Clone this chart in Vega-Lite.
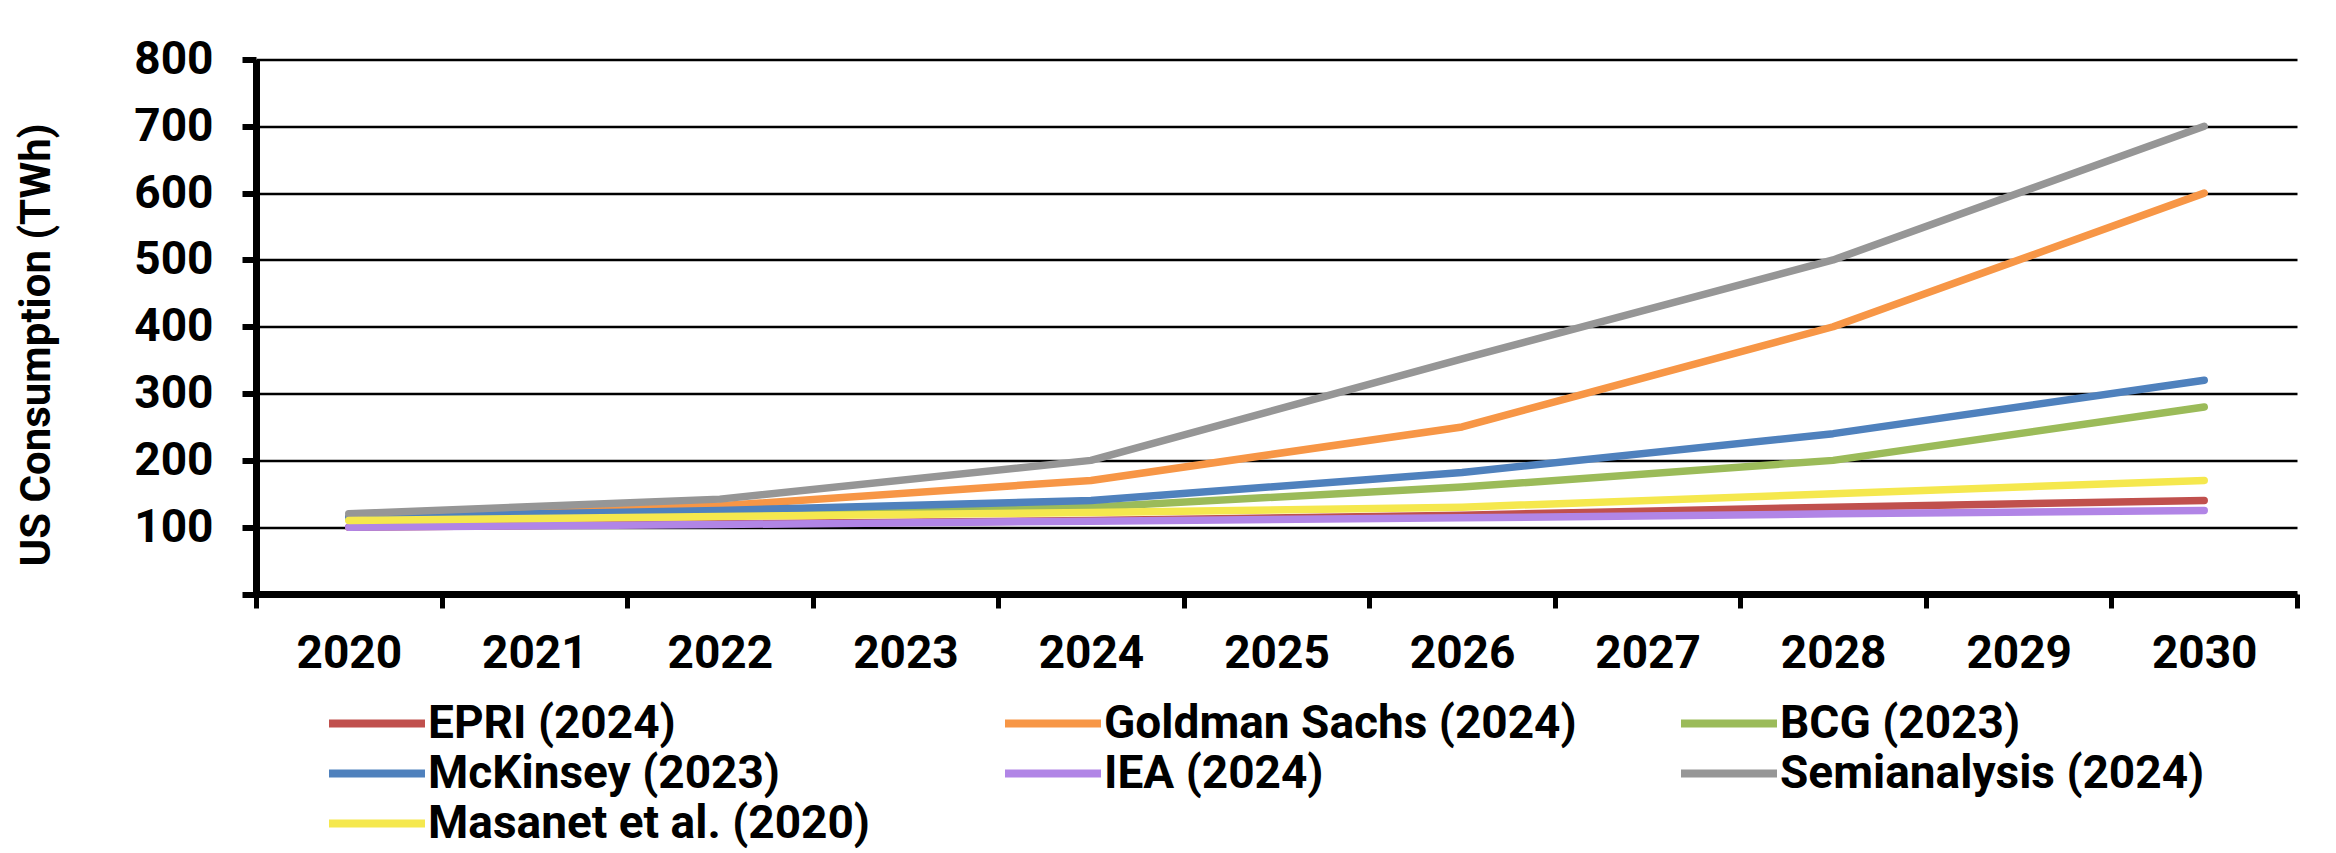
{
  "$schema": "https://vega.github.io/schema/vega-lite/v6.json",
  "width": 2041,
  "height": 534.5,
  "autosize": {"type": "none"},
  "padding": {"left": 256, "top": 59.5, "right": 39, "bottom": 259},
  "background": "white",
  "config": {
    "view": {"stroke": null},
    "font": "Roboto"
  },
  "data": {
    "values": [
      {"source": "EPRI (2024)", "year": "2020", "twh": 100},
      {"source": "EPRI (2024)", "year": "2022", "twh": 105},
      {"source": "EPRI (2024)", "year": "2024", "twh": 110},
      {"source": "EPRI (2024)", "year": "2026", "twh": 118},
      {"source": "EPRI (2024)", "year": "2028", "twh": 130},
      {"source": "EPRI (2024)", "year": "2030", "twh": 140},
      {"source": "Goldman Sachs (2024)", "year": "2020", "twh": 115},
      {"source": "Goldman Sachs (2024)", "year": "2022", "twh": 132},
      {"source": "Goldman Sachs (2024)", "year": "2024", "twh": 170},
      {"source": "Goldman Sachs (2024)", "year": "2026", "twh": 250},
      {"source": "Goldman Sachs (2024)", "year": "2028", "twh": 400},
      {"source": "Goldman Sachs (2024)", "year": "2030", "twh": 600},
      {"source": "BCG (2023)", "year": "2020", "twh": 112},
      {"source": "BCG (2023)", "year": "2022", "twh": 120},
      {"source": "BCG (2023)", "year": "2024", "twh": 130},
      {"source": "BCG (2023)", "year": "2026", "twh": 160},
      {"source": "BCG (2023)", "year": "2028", "twh": 200},
      {"source": "BCG (2023)", "year": "2030", "twh": 280},
      {"source": "McKinsey (2023)", "year": "2020", "twh": 115},
      {"source": "McKinsey (2023)", "year": "2022", "twh": 125},
      {"source": "McKinsey (2023)", "year": "2024", "twh": 140},
      {"source": "McKinsey (2023)", "year": "2026", "twh": 182},
      {"source": "McKinsey (2023)", "year": "2028", "twh": 240},
      {"source": "McKinsey (2023)", "year": "2030", "twh": 320},
      {"source": "IEA (2024)", "year": "2020", "twh": 100},
      {"source": "IEA (2024)", "year": "2022", "twh": 104},
      {"source": "IEA (2024)", "year": "2024", "twh": 109},
      {"source": "IEA (2024)", "year": "2026", "twh": 114},
      {"source": "IEA (2024)", "year": "2028", "twh": 120},
      {"source": "IEA (2024)", "year": "2030", "twh": 125},
      {"source": "Semianalysis (2024)", "year": "2020", "twh": 120},
      {"source": "Semianalysis (2024)", "year": "2022", "twh": 142},
      {"source": "Semianalysis (2024)", "year": "2024", "twh": 200},
      {"source": "Semianalysis (2024)", "year": "2026", "twh": 352},
      {"source": "Semianalysis (2024)", "year": "2028", "twh": 500},
      {"source": "Semianalysis (2024)", "year": "2030", "twh": 700},
      {"source": "Masanet et al. (2020)", "year": "2020", "twh": 110},
      {"source": "Masanet et al. (2020)", "year": "2022", "twh": 116},
      {"source": "Masanet et al. (2020)", "year": "2024", "twh": 122},
      {"source": "Masanet et al. (2020)", "year": "2026", "twh": 130},
      {"source": "Masanet et al. (2020)", "year": "2028", "twh": 150},
      {"source": "Masanet et al. (2020)", "year": "2030", "twh": 170}
    ]
  },
  "mark": {"type": "line", "strokeWidth": 7.5, "strokeCap": "round", "strokeJoin": "round"},
  "encoding": {
    "x": {
      "field": "year", "type": "ordinal", "bandPosition": 0.5,
      "scale": {"type": "band", "domain": ["2020","2021","2022","2023","2024","2025","2026","2027","2028","2029","2030"], "paddingInner": 0, "paddingOuter": 0},
      "axis": {
        "title": null, "labelAngle": 0, "tickBand": "extent", "grid": false,
        "domainColor": "black", "domainWidth": 7,
        "tickColor": "black", "tickWidth": 5, "tickSize": 14,
        "labelFont": "Roboto", "labelFontWeight": "bold", "labelFontSize": 46, "labelColor": "black",
        "labelBaseline": "alphabetic", "labelPadding": 59
      }
    },
    "y": {
      "field": "twh", "type": "quantitative",
      "scale": {"domain": [0, 800], "nice": false},
      "axis": {
        "title": "US Consumption (TWh)",
        "values": [0, 100, 200, 300, 400, 500, 600, 700, 800],
        "labelExpr": "datum.value == 0 ? '' : datum.label",
        "grid": true, "gridColor": "black", "gridWidth": 2.5,
        "domainColor": "black", "domainWidth": 7,
        "tickColor": "black", "tickWidth": 6, "tickSize": 14,
        "labelFont": "Roboto", "labelFontWeight": "bold", "labelFontSize": 46, "labelColor": "black", "labelPadding": 29,
        "titleFont": "Roboto", "titleFontWeight": "bold", "titleFontSize": 42, "titleColor": "black",
        "titleAngle": 270, "titleX": -207, "titleY": 285, "titleBaseline": "alphabetic", "titleAlign": "center"
      }
    },
    "color": {
      "field": "source", "type": "nominal",
      "scale": {
        "domain": ["EPRI (2024)", "McKinsey (2023)", "Semianalysis (2024)", "Goldman Sachs (2024)", "IEA (2024)", "Masanet et al. (2020)", "BCG (2023)"],
        "range": ["#C0504D", "#4F81BD", "#969696", "#F79646", "#B185E6", "#F5E84E", "#9BBB59"]
      },
      "legend": {
        "title": null, "orient": "none", "legendX": 69, "legendY": 640,
        "columns": 3, "gridAlign": "all", "columnPadding": 100, "rowPadding": 2,
        "clipHeight": 48, "padding": 0,
        "symbolType": "stroke", "symbolStrokeWidth": 8, "symbolSize": 9216, "symbolOffset": 0,
        "labelFont": "Roboto", "labelFontWeight": "bold", "labelFontSize": 46, "labelColor": "black",
        "labelOffset": -1, "labelLimit": 1000
      }
    }
  }
}
